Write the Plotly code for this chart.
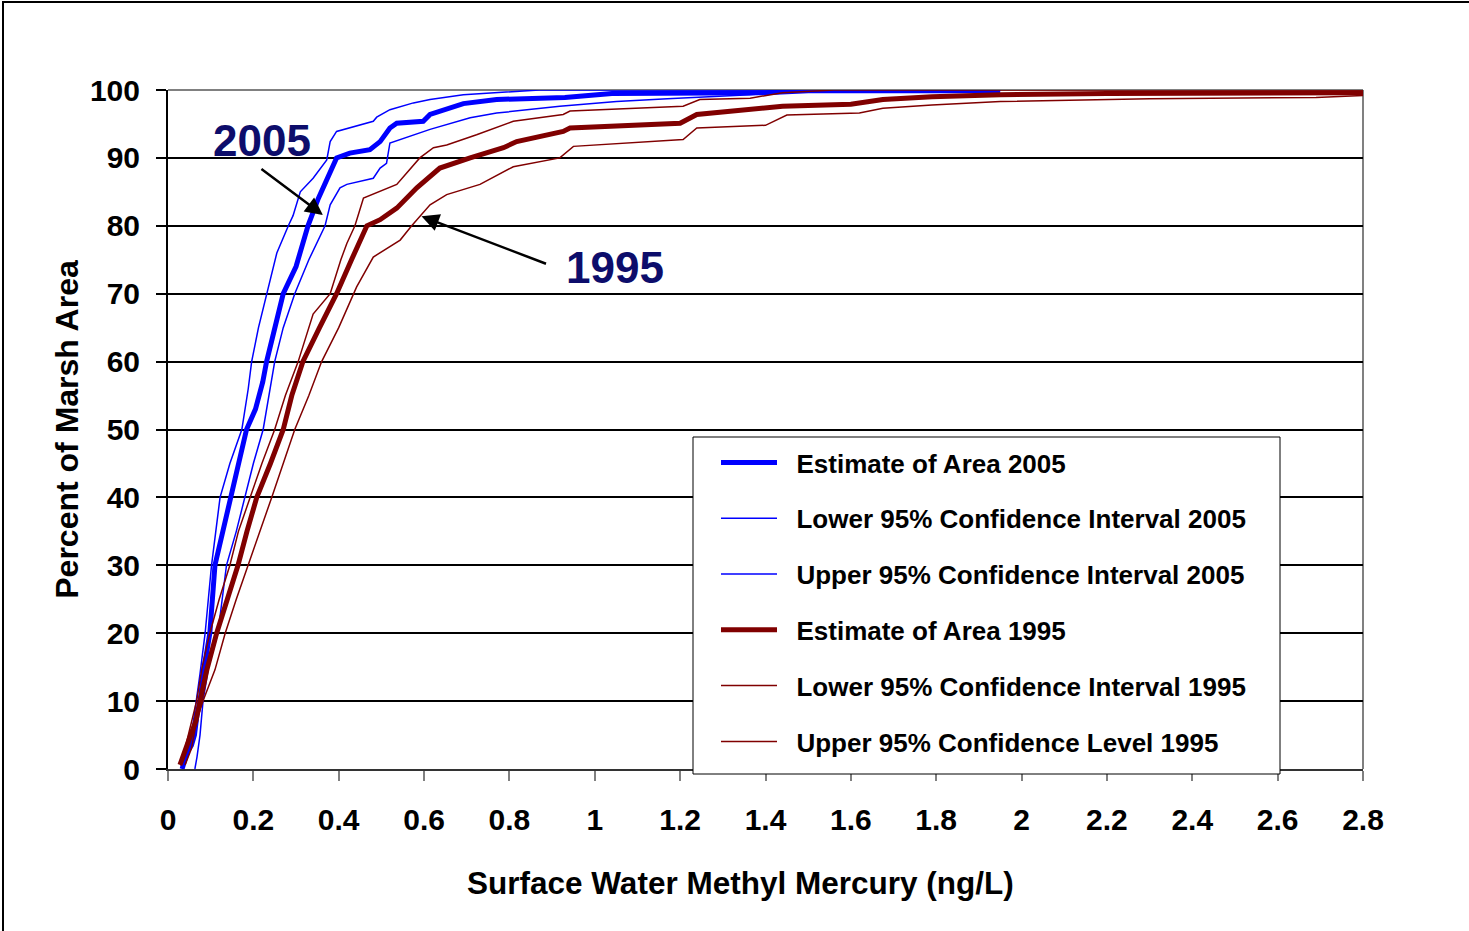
import plotly.graph_objects as go

# Cumulative distribution of marsh area vs. surface-water methylmercury (ng/L)
est05_x = [0.033, 0.045, 0.055, 0.062, 0.068, 0.075, 0.085, 0.098, 0.110, 0.128, 0.149, 0.165,
           0.184, 0.205, 0.222, 0.231, 0.250, 0.270, 0.300, 0.328, 0.352, 0.372, 0.380, 0.395,
           0.426, 0.473, 0.497, 0.520, 0.536, 0.598, 0.614, 0.692, 0.770, 0.930, 1.040, 1.400,
           1.500, 1.950]
est05_y = [0, 2.5, 3.5, 5, 8, 10, 15, 20, 30, 35, 40, 45,
           50, 53, 57, 60, 65, 70, 74, 80, 84, 86.7, 88.0, 90.0,
           90.7, 91.2, 92.4, 94.4, 95.1, 95.4, 96.4, 98.0, 98.6, 98.9, 99.5, 99.6,
           99.9, 99.9]

low05_x = [0.063, 0.068, 0.075, 0.082, 0.095, 0.117, 0.127, 0.137, 0.160, 0.180, 0.200, 0.223,
           0.246, 0.250, 0.270, 0.297, 0.330, 0.368, 0.380, 0.403, 0.419, 0.481, 0.497, 0.512,
           0.520, 0.614, 0.708, 0.770, 0.918, 1.051, 1.170, 1.364, 1.450, 1.710, 1.950]
low05_y = [0, 1.8, 5, 10, 15, 20, 25, 30, 35, 40, 45, 50,
           58.8, 60, 65, 70, 75, 80, 83.1, 85.6, 86.1, 87.0, 88.5, 89.2,
           92.2, 94.2, 95.9, 96.6, 97.6, 98.3, 98.7, 99.3, 99.8, 100, 100]

up05_x = [0.038, 0.045, 0.055, 0.062, 0.067, 0.075, 0.087, 0.095, 0.102, 0.112, 0.122, 0.145,
          0.173, 0.188, 0.196, 0.212, 0.231, 0.255, 0.282, 0.293, 0.310, 0.340, 0.372, 0.380,
          0.395, 0.481, 0.489, 0.520, 0.575, 0.614, 0.692, 0.809, 0.870, 1.950]
up05_y = [0.5, 3, 5, 8, 10, 14, 20, 25, 30, 35, 40, 45,
          50, 56, 60, 65, 70, 76, 80, 81.5, 85, 87, 89.7, 92.4,
          93.9, 95.4, 96.0, 97.1, 98.1, 98.6, 99.3, 99.8, 100, 100]

est95_x = [0.028, 0.040, 0.052, 0.065, 0.075, 0.091, 0.114, 0.140, 0.164, 0.185, 0.208, 0.240,
           0.270, 0.290, 0.316, 0.355, 0.395, 0.430, 0.466, 0.497, 0.536, 0.583, 0.637, 0.708,
           0.786, 0.817, 0.926, 0.942, 1.200, 1.239, 1.364, 1.440, 1.600, 1.675, 1.790, 1.950,
           2.200, 2.800]
est95_y = [0.6, 3, 4.8, 7, 10, 14.6, 20, 25, 30, 35, 40, 45,
           50, 55, 60, 65, 70, 75, 80, 80.9, 82.6, 85.6, 88.5, 90.0,
           91.5, 92.4, 93.9, 94.4, 95.1, 96.4, 97.1, 97.6, 97.9, 98.6, 99.0, 99.3,
           99.5, 99.6]

low95_x = [0.040, 0.055, 0.067, 0.082, 0.110, 0.134, 0.160, 0.188, 0.215, 0.243, 0.270, 0.297,
           0.330, 0.360, 0.400, 0.442, 0.481, 0.544, 0.571, 0.614, 0.653, 0.731, 0.809, 0.918,
           0.950, 1.207, 1.239, 1.400, 1.450, 1.620, 1.675, 1.790, 1.950, 2.030, 2.300, 2.690,
           2.800]
low95_y = [0.6, 3, 7.2, 10, 14.6, 20, 25, 30, 35, 40, 45, 50,
           55, 60, 65, 71, 75.4, 77.9, 80, 83.1, 84.6, 86.1, 88.7, 90.0,
           91.7, 92.7, 94.4, 94.8, 96.3, 96.6, 97.3, 97.8, 98.3, 98.4, 98.7, 98.9,
           99.2]

up95_x = [0.030, 0.040, 0.055, 0.067, 0.080, 0.098, 0.120, 0.145, 0.165, 0.192, 0.220, 0.250,
          0.275, 0.305, 0.340, 0.380, 0.405, 0.419, 0.438, 0.458, 0.536, 0.590, 0.622, 0.653,
          0.723, 0.809, 0.926, 0.942, 1.207, 1.246, 1.364, 1.440, 1.560, 2.800]
up95_y = [0.5, 3, 6.7, 10, 15, 20, 25, 30, 35, 40, 45, 50,
          55, 60, 67, 70, 75, 77.4, 80, 84.1, 86.1, 90.0, 91.5, 91.9,
          93.4, 95.4, 96.4, 96.9, 97.6, 98.6, 98.8, 99.6, 100, 100]

x_ticks = [0, 0.2, 0.4, 0.6, 0.8, 1, 1.2, 1.4, 1.6, 1.8, 2, 2.2, 2.4, 2.6, 2.8]
x_tick_text = ["0", "0.2", "0.4", "0.6", "0.8", "1", "1.2", "1.4", "1.6", "1.8", "2",
               "2.2", "2.4", "2.6", "2.8"]
y_ticks = [0, 10, 20, 30, 40, 50, 60, 70, 80, 90, 100]

BLUE = "#0000ff"
RED = "#800000"
FONT = "Liberation Sans, Arial, sans-serif"
PAD = "\u00a0\u00a0"  # gap between legend swatch and label

series = [
    ("Estimate of Area 2005", est05_x, est05_y, BLUE, 5),
    ("Lower 95% Confidence Interval 2005", low05_x, low05_y, BLUE, 1.5),
    ("Upper 95% Confidence Interval 2005", up05_x, up05_y, BLUE, 1.5),
    ("Estimate of Area 1995", est95_x, est95_y, RED, 5),
    ("Lower 95% Confidence Interval 1995", low95_x, low95_y, RED, 1.5),
    ("Upper 95% Confidence Level 1995", up95_x, up95_y, RED, 1.5),
]

fig = go.Figure()
for i, (name, xs, ys, col, w) in enumerate(series):
    fig.add_trace(go.Scatter(
        x=xs, y=ys, mode="lines", name=PAD + name, legendgroup=f"g{i}",
        line=dict(color=col, width=w),
    ))


def px_x(p):
    return (p - 168) / 1195


def px_y(p):
    return (769 - p) / 679


fig.update_layout(
    width=1469, height=931,
    margin=dict(l=168, r=106, t=90, b=162),
    paper_bgcolor="white", plot_bgcolor="white",
    font=dict(family=FONT, color="black"),
    showlegend=True,
    legend=dict(
        x=px_x(716), y=px_y(439), xanchor="left", yanchor="top",
        bgcolor="rgba(0,0,0,0)", borderwidth=0,
        font=dict(family=FONT, size=26, color="black", weight="bold"),
        tracegroupgap=19, traceorder="grouped", itemwidth=56,
    ),
    xaxis=dict(
        range=[0, 2.8], tickvals=x_ticks, ticktext=x_tick_text,
        showgrid=False, zeroline=False,
        showline=True, linecolor="#333333", linewidth=2,
        ticks="outside", ticklen=10, tickcolor="#808080", tickwidth=2,
        ticklabelstandoff=13,
        tickfont=dict(family=FONT, size=30, color="black", weight="bold"),
    ),
    yaxis=dict(
        range=[0, 100], tickvals=y_ticks,
        showgrid=True, gridcolor="black", gridwidth=1.5, zeroline=False,
        showline=True, linecolor="black", linewidth=2,
        ticks="outside", ticklen=10, tickcolor="black", tickwidth=1.5,
        ticklabelstandoff=10,
        tickfont=dict(family=FONT, size=30, color="black", weight="bold"),
        title=dict(text="Percent of Marsh Area", standoff=2,
                   font=dict(family=FONT, size=32, color="black", weight="bold")),
    ),
)

# gray frame on the top and right of the plot area
fig.add_shape(type="line", xref="paper", yref="paper", x0=0, x1=1, y0=1, y1=1,
              line=dict(color="#808080", width=2), layer="between")
fig.add_shape(type="line", xref="paper", yref="paper", x0=1, x1=1, y0=0, y1=1,
              line=dict(color="#808080", width=2), layer="between")
# outer border of the figure
fig.add_shape(type="rect", xref="paper", yref="paper",
              x0=px_x(3), x1=px_x(1475), y0=px_y(940), y1=px_y(2),
              line=dict(color="black", width=2), layer="below")
# legend box
fig.add_shape(type="rect", xref="paper", yref="paper",
              x0=px_x(693), x1=px_x(1280), y0=px_y(774), y1=px_y(437),
              line=dict(color="black", width=1), fillcolor="white", layer="above")

# x-axis title
fig.add_annotation(text="Surface Water Methyl Mercury (ng/L)", xref="paper", yref="paper",
                   x=px_x(740), y=px_y(883), xanchor="center", yanchor="middle",
                   showarrow=False,
                   font=dict(family=FONT, size=31.5, color="black", weight="bold"))

# year labels with arrows pointing to their estimate curves
NAVY = "#0d0d6b"
fig.add_annotation(text="2005", x=0.221, y=92.6, showarrow=False,
                   font=dict(family=FONT, size=44, color=NAVY, weight="bold"))
fig.add_annotation(text="1995", x=1.047, y=73.8, showarrow=False,
                   font=dict(family=FONT, size=44, color=NAVY, weight="bold"))
fig.add_annotation(text="", x=0.363, y=81.6, ax=-63, ay=-47, showarrow=True,
                   arrowhead=2, arrowsize=1.4, arrowwidth=2.5, arrowcolor="black")
fig.add_annotation(text="", x=0.594, y=81.4, ax=126, ay=48, showarrow=True,
                   arrowhead=2, arrowsize=1.4, arrowwidth=2.5, arrowcolor="black")

fig.write_html("out.html")
